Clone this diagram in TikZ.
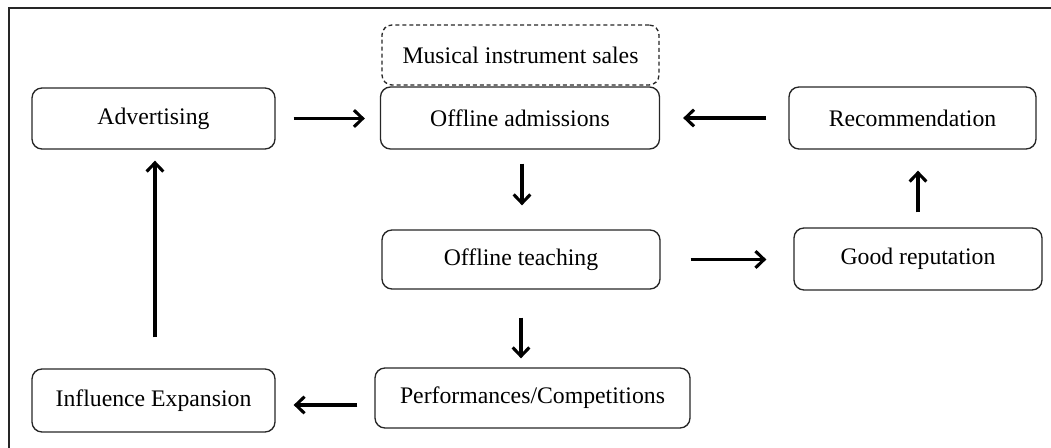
\documentclass[tikz,border=0pt]{standalone}
\usepackage{fontspec}
\setmainfont{Liberation Serif}
\usetikzlibrary{arrows.meta}
\begin{document}
\begin{tikzpicture}[x=0.75pt,y=-0.75pt,
  box/.style={draw=black!85,line width=1pt,rounded corners=7.5pt,inner sep=0pt,
    font=\fontsize{17.8}{20}\selectfont,text=black},
  flow/.style={line width=2.7pt,-{Straight Barb[length=6.5pt,width=12.5pt,line width=2.3pt]}},
  frameline/.style={line width=1.6pt,black!85}]
\useasboundingbox (0,0) rectangle (1051,448);
\coordinate (ftl) at (9,8);
\coordinate (ftr) at (1051,8);
\coordinate (fbl) at (9,448);
\draw[frameline] (ftr) -- (ftl) -- (fbl);

\node[box,minimum width=182.25pt,minimum height=45.75pt] (adv) at (153.5,118.5) {Advertising};
\node[box,dashed,dash pattern=on 3pt off 2.2pt,minimum width=207.75pt,minimum height=45pt] (mus) at (520.5,55) {Musical instrument sales};
\node[box,minimum width=209.25pt,minimum height=46.5pt] (adm) at (520,118) {Offline admissions};
\node[box,minimum width=185.25pt,minimum height=46.5pt] (rec) at (912.5,118) {Recommendation};
\node[box,minimum width=208.5pt,minimum height=44.25pt] (teach) at (521,259.5) {Offline teaching};
\node[box,minimum width=186pt,minimum height=46.5pt] (rep) at (918,259) {Good reputation};
\node[box,minimum width=236.25pt,minimum height=45pt] (perf) at (532.5,398) {Performances/Competitions};
\node[box,minimum width=182.25pt,minimum height=47.25pt] (inf) at (153.5,400.5) {Influence Expansion};

\draw[flow,shorten <=13.5pt,shorten >=11.25pt] (adv.east) -- (adv.east -| adm.west);
\draw[flow,shorten <=10.5pt,shorten >=18pt] ([xshift=1.5pt]adm.south) -- ([xshift=1.5pt]adm.south |- teach.north);
\draw[flow,shorten <=21pt,shorten >=6.75pt] (teach.south) -- (teach.south |- perf.north);
\draw[flow,shorten <=22.5pt,shorten >=20.25pt] (teach.east) -- (teach.east -| rep.west);
\draw[flow,shorten <=11.25pt,shorten >=15.75pt] (rep.north) -- (rep.north |- rec.south);
\draw[flow,shorten <=16.5pt,shorten >=17.25pt] (rec.west) -- (rec.west -| adm.east);
\draw[flow,shorten <=12.75pt,shorten >=13.5pt] ([yshift=-5.25pt]perf.west) -- ([yshift=-5.25pt]perf.west -| inf.east);
\draw[flow,shorten <=23.25pt,shorten >=8.25pt] ([xshift=1.1pt]inf.north) -- ([xshift=1.1pt]inf.north |- adv.south);
\end{tikzpicture}
\end{document}
